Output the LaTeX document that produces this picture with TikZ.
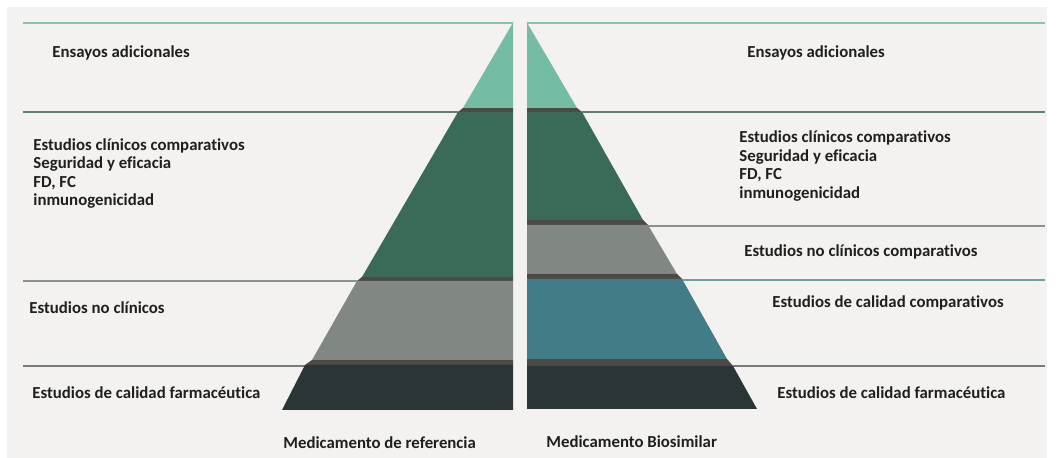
\documentclass[tikz,border=0pt]{standalone}
\usepackage{fontspec}
\setmainfont{Carlito}[Ligatures=NoCommon]
\definecolor{fondo}{HTML}{F3F2F0}
\definecolor{verdeclaro}{HTML}{74BCA3}
\definecolor{verdeosc}{HTML}{396B58}
\definecolor{gris}{HTML}{818884}
\definecolor{azul}{HTML}{427C87}
\definecolor{oscuro}{HTML}{2B3437}
\definecolor{sombra}{HTML}{4C4A44}
\definecolor{lineaverde}{HTML}{86C4AD}
\definecolor{lineaosc}{HTML}{5F7F73}
\definecolor{lineagris}{HTML}{8C918E}
\definecolor{lineaazul}{HTML}{6F9EA6}

\begin{document}
\begin{tikzpicture}[x=0.5pt, y=-0.5pt,
  lbl/.style={anchor=west, inner sep=0pt, align=left, text=black!88,
    font=\fontsize{8.4}{9.3}\selectfont\bfseries},
  regla/.style={line width=1pt}]
\useasboundingbox (0,0) rectangle (1060,458);
\fill[fondo] (7,7) rectangle (1047,458);

\draw[regla, lineaverde] (23,22.7) -- (513,22.7);
\draw[regla, lineaosc] (23,112) -- (458,112);
\draw[regla, lineagris] (23,281) -- (357,281);
\draw[regla, lineagris!85!black] (23,366) -- (305,366);
\draw[regla, lineaverde] (527,22.7) -- (1045,22.7);
\draw[regla, lineaosc] (582,112) -- (1045,112);
\draw[regla, lineagris] (648,226) -- (1045,226);
\draw[regla, lineaazul] (682,280) -- (1045,280);
\draw[regla, lineagris!85!black] (733,366) -- (1045,366);

\fill[sombra] (463,108) -- (513,108) -- (513,112) -- (458,112) -- cycle;
\fill[sombra] (362,277) -- (513,277) -- (513,281) -- (357,281) -- cycle;
\fill[sombra] (312,360) -- (513,360) -- (513,365) -- (305,365) -- cycle;
\fill[sombra] (527,108) -- (577,108) -- (582,112) -- (527,112) -- cycle;
\fill[sombra] (527,220) -- (643,220) -- (648,225) -- (527,225) -- cycle;
\fill[sombra] (527,274) -- (677,274) -- (682,279) -- (527,279) -- cycle;
\fill[sombra] (527,359) -- (727,359) -- (733,366) -- (527,366) -- cycle;

\fill[verdeclaro] (513,22.7) -- (463,108) -- (513,108) -- cycle;
\fill[verdeosc] (458,112) -- (513,112) -- (513,277) -- (362,277) -- cycle;
\fill[gris] (357,281) -- (513,281) -- (513,360) -- (312,360) -- cycle;
\fill[oscuro] (305,365) -- (513,365) -- (513,410) -- (282,410) -- cycle;

\fill[verdeclaro] (527,22.7) -- (577,108) -- (527,108) -- cycle;
\fill[verdeosc] (527,112) -- (582,112) -- (643,220) -- (527,220) -- cycle;
\fill[gris] (527,225) -- (648,225) -- (677,274) -- (527,274) -- cycle;
\fill[azul] (527,279) -- (682,279) -- (727,359) -- (527,359) -- cycle;
\fill[oscuro] (527,366) -- (733,366) -- (757,409) -- (527,409) -- cycle;

\node[lbl] (ensayosR) at (52,53) {Ensayos adicionales};
\node[lbl] (clinicosR) at (33,173.5) {Estudios clínicos comparativos\\Seguridad y eficacia\\FD, FC\\inmunogenicidad};
\node[lbl] (noclinR) at (29,308) {Estudios no clínicos};
\node[lbl] (calidadR) at (32,393) {Estudios de calidad farmacéutica};
\node[lbl] (refer) at (283,443) {Medicamento de referencia};

\node[lbl] (ensayosB) at (747,53) {Ensayos adicionales};
\node[lbl] (clinicosB) at (739,166) {Estudios clínicos comparativos\\Seguridad y eficacia\\FD, FC\\inmunogenicidad};
\node[lbl] (noclinB) at (744,252) {Estudios no clínicos comparativos};
\node[lbl] (compB) at (772,303) {Estudios de calidad comparativos};
\node[lbl] (calidadB) at (777,393) {Estudios de calidad farmacéutica};
\node[lbl] (biosim) at (546,442) {Medicamento Biosimilar};
\end{tikzpicture}
\end{document}
